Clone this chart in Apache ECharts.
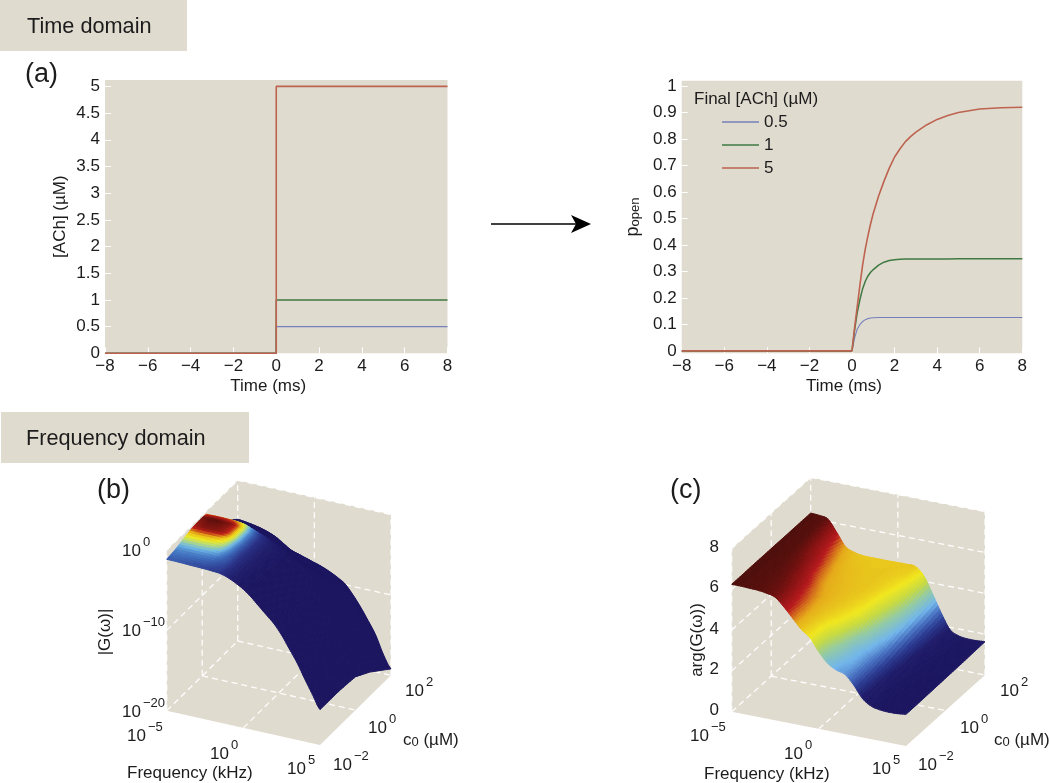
<!DOCTYPE html>
<html><head><meta charset="utf-8">
<style>html,body{margin:0;padding:0;background:#fff}#c{width:1050px;height:783px}</style>
<script src="https://cdn.jsdelivr.net/npm/echarts@6/dist/echarts.min.js"></script>
</head><body><div id="c"></div>
<script>
// ---------- panel (a) data ----------
const stepTime = [-8, 0, 0, 8];
const stimulus05 = [0, 0, 0.5, 0.5];
const stimulus1 = [0, 0, 1, 1];
const stimulus5 = [0, 0, 5, 5];
const respTime = [-8, 0, 0.125, 0.25, 0.375, 0.5, 0.625, 0.75, 0.875, 1, 1.25, 1.5, 1.75, 2, 2.25, 2.5, 2.75, 3, 3.5, 4, 4.5, 5, 6, 7, 8];
const popen05 = [0, 0, 0.05, 0.083, 0.1, 0.111, 0.118, 0.122, 0.124, 0.125, 0.126, 0.126, 0.126, 0.126, 0.126, 0.126, 0.126, 0.126, 0.126, 0.126, 0.126, 0.126, 0.126, 0.126, 0.126];
const popen1 = [0, 0, 0.08, 0.146, 0.195, 0.235, 0.263, 0.283, 0.297, 0.307, 0.324, 0.335, 0.341, 0.344, 0.346, 0.347, 0.347, 0.347, 0.347, 0.347, 0.347, 0.348, 0.348, 0.348, 0.348];
const popen5 = [0, 0, 0.09, 0.17, 0.25, 0.325, 0.385, 0.435, 0.48, 0.52, 0.585, 0.64, 0.69, 0.732, 0.762, 0.789, 0.809, 0.826, 0.853, 0.874, 0.889, 0.9, 0.913, 0.918, 0.92];
const yTicksA = [0, 0.5, 1, 1.5, 2, 2.5, 3, 3.5, 4, 4.5, 5];
const yTicksB = [0, 0.1, 0.2, 0.3, 0.4, 0.5, 0.6, 0.7, 0.8, 0.9, 1];

// ---------- 3D panels: shared frequency grid (log10 kHz) ----------
const logF = [-5, -4.5, -4, -3.5, -3, -2.5, -2, -1.5, -1, -0.5, 0, 0.5, 1, 1.5, 2, 2.5, 3, 3.5, 4, 4.5, 5];

// panel (b): log10 |G| by row of log10 c0
const logCb = [-2, -1.5, -1, -0.5, 0, 0.24, 0.8, 1.4, 2];
const magRow0 = [-1.16, -1.17, -1.2, -1.24, -1.27, -1.3, -1.36, -1.45, -1.75, -2.2, -2.75, -3.5, -4.4, -5.3, -6.2, -7.4, -8.9, -10.4, -12.2, -13.9, -15.6];
const magRow1 = [-1.0, -1.0, -1.0, -1.0, -1.02, -1.05, -1.15, -1.3, -1.7, -2.1, -2.65, -3.4, -4.25, -5.15, -6.05, -7.2, -8.7, -10.2, -12, -13.8, -15.6];
const magRow2 = [-0.63, -0.62, -0.62, -0.63, -0.66, -0.75, -1.0, -1.3, -1.65, -2.05, -2.55, -3.25, -4.1, -5, -5.9, -7, -8.5, -10, -11.8, -13.7, -15.6];
const magRow3 = [-0.36, -0.33, -0.32, -0.33, -0.37, -0.52, -0.9, -1.25, -1.6, -2, -2.45, -3.1, -3.9, -4.8, -5.7, -6.8, -8.3, -9.8, -11.6, -13.6, -15.7];
const magRow4 = [-0.3, -0.28, -0.28, -0.3, -0.34, -0.5, -0.9, -1.25, -1.6, -2, -2.4, -3, -3.75, -4.6, -5.5, -6.6, -8.1, -9.7, -11.5, -13.6, -15.85];
const magRow5 = [-0.42, -0.4, -0.4, -0.42, -0.47, -0.62, -0.98, -1.35, -1.75, -2.15, -2.55, -3.1, -3.8, -4.6, -5.5, -6.6, -8.1, -9.7, -11.6, -13.7, -16.2];
const magRow6 = [-2.5, -2.5, -2.5, -2.6, -2.7, -2.85, -3.1, -3.4, -3.75, -4.1, -4.9, -5.2, -5.6, -6.1, -6.8, -7.7, -9, -10.5, -12.3, -14.4, -17.0];
const magRow7 = [-3.7, -3.75, -3.8, -3.9, -4, -4.2, -5, -5.3, -6, -6.4, -6.8, -7.1, -7.5, -7.9, -8.4, -9, -10.2, -11.7, -13.5, -15.8, -18.1];
const magRow8 = [-4.85, -4.95, -5.1, -5.3, -5.6, -6, -6.6, -7.2, -7.5, -7.8, -8.1, -8.4, -8.8, -9.3, -9.9, -11, -12.3, -13.8, -15.4, -17.6, -19.2];

// panel (c): arg G by row of log10 c0
const logCc = [-2, -1.5, -1, -0.5, 0, 0.5, 1, 1.5, 2];
const argRow0 = [6.24, 6.24, 6.22, 6.2, 6.14, 6.02, 5.63, 5.16, 4.7, 4.37, 3.77, 3.3, 3.05, 2.92, 2.48, 1.91, 1.62, 1.52, 1.49, 1.5, 1.55];
const argRow1 = [6.24, 6.24, 6.22, 6.19, 6.12, 5.98, 5.55, 5.12, 4.75, 4.45, 3.95, 3.55, 3.2, 3.0, 2.55, 1.97, 1.64, 1.53, 1.5, 1.51, 1.55];
const argRow2 = [6.25, 6.24, 6.22, 6.18, 6.08, 5.85, 5.4, 5.05, 4.78, 4.6, 4.38, 3.85, 3.3, 3.05, 2.65, 2.03, 1.68, 1.54, 1.51, 1.52, 1.56];
const argRow3 = [6.25, 6.24, 6.22, 6.15, 6.0, 5.65, 5.2, 4.95, 4.8, 4.68, 4.55, 4.3, 3.75, 3.2, 2.8, 2.1, 1.72, 1.56, 1.52, 1.53, 1.57];
const argRow4 = [6.25, 6.24, 6.21, 6.1, 5.85, 5.35, 5.0, 4.85, 4.78, 4.7, 4.62, 4.42, 4.0, 3.45, 2.95, 2.2, 1.75, 1.58, 1.53, 1.54, 1.58];
const argRow5 = [6.25, 6.23, 6.2, 6.0, 5.65, 5.15, 4.9, 4.8, 4.74, 4.7, 4.66, 4.52, 4.2, 3.7, 3.1, 2.3, 1.78, 1.6, 1.55, 1.55, 1.59];
const argRow6 = [6.25, 6.23, 6.18, 5.88, 5.4, 4.98, 4.8, 4.74, 4.7, 4.68, 4.66, 4.58, 4.38, 3.9, 3.2, 2.4, 1.82, 1.62, 1.57, 1.57, 1.6];
const argRow7 = [6.25, 6.22, 6.15, 5.72, 5.15, 4.85, 4.72, 4.69, 4.67, 4.67, 4.67, 4.62, 4.52, 4.1, 3.32, 2.5, 1.85, 1.64, 1.58, 1.58, 1.62];
const argRow8 = [6.25, 6.22, 6.12, 5.55, 4.95, 4.75, 4.67, 4.66, 4.66, 4.66, 4.67, 4.67, 4.65, 4.25, 3.45, 2.6, 1.88, 1.66, 1.6, 1.6, 1.63];

const magMatrix = [magRow0, magRow1, magRow2, magRow3, magRow4, magRow5, magRow6, magRow7, magRow8];
const argMatrix = [argRow0, argRow1, argRow2, argRow3, argRow4, argRow5, argRow6, argRow7, argRow8];

// ---------- style ----------
const BG = '#e0dbcf', INK = '#1c1c1c', FONT = '"Liberation Sans", Arial, sans-serif';
const BLUE = '#7480bd', GREEN = '#3f7a42', RED = '#bd6350';

// ---------- colour maps ----------
const mapMag = [[0, '#1c1660'], [0.07, '#2a3288'], [0.16, '#3f6fbe'], [0.26, '#6fb8e8'], [0.38, '#b8dc78'], [0.5, '#f2e81e'], [0.62, '#e8b418'], [0.78, '#c02018'], [1, '#5e0f0c']];
const mapArg = [[1.5, '#1c1660'], [1.95, '#1f1c6a'], [2.35, '#2c3c92'], [2.75, '#4a74c4'], [3.1, '#72b6ec'], [3.6, '#94cba4'], [4.0, '#c6da44'], [4.4, '#f2e81e'], [4.72, '#e8c01c'], [4.95, '#e6aa1a'], [5.2, '#d2661c'], [5.45, '#b81a1e'], [5.9, '#861212'], [6.25, '#4f0f0c']];
function lut(stops) {
  const lo = stops[0][0], hi = stops[stops.length - 1][0], arr = [];
  for (let k = 0; k <= 200; k++) {
    const x = lo + (hi - lo) * k / 200;
    let s = 0;
    while (s < stops.length - 2 && x > stops[s + 1][0]) s++;
    const f = (x - stops[s][0]) / (stops[s + 1][0] - stops[s][0]);
    arr.push(echarts.color.lerp(Math.min(1, Math.max(0, f)), [stops[s][1], stops[s + 1][1]]));
  }
  return q => arr[Math.round(200 * Math.min(1, Math.max(0, (q - lo) / (hi - lo))))];
}
const lutMag = lut(mapMag), lutArg = lut(mapArg);

// ---------- 3D boxes: screen frame of each orthographic box ----------
const panelB = {
  origin: [166.7, 710.7], uVec: [153.3, 34.3], vVec: [71, -69.7], wVec: [0, -160.7],
  zMin: -20, zMax: 0, cMin: -2, cMax: 2, logC: logCb, matrix: magMatrix,
  zGrid: [-20, -10, 0],
  colour: z => lutMag(Math.pow(10, z + 0.28))
};
const panelC = {
  origin: [731.7, 711.7], uVec: [174.3, 34.3], vVec: [79, -71], wVec: [0, -163.3],
  zMin: 0, zMax: 8, cMin: -2, cMax: 2, logC: logCc, matrix: argMatrix,
  zGrid: [0, 2, 4, 6, 8],
  colour: z => lutArg(z)
};
function project(p, lf, lc, z) {
  const u = (lf + 5) / 10, v = (lc - p.cMin) / (p.cMax - p.cMin), w = (z - p.zMin) / (p.zMax - p.zMin);
  return [p.origin[0] + u * p.uVec[0] + v * p.vVec[0] + w * p.wVec[0],
          p.origin[1] + u * p.uVec[1] + v * p.vVec[1] + w * p.wVec[1]];
}

function boxRender(p) {
  return function (params, api) {
    if (params.dataIndex !== 0) return null;
    const P = (f, c, z) => api.coord(project(p, f, c, z));
    const c0 = p.cMin, c1 = p.cMax, zl = p.zMin, zh = p.zMax;
    const kids = [{
      type: 'polygon', silent: true,
      shape: { points: [P(-5, c0, zl), P(5, c0, zl), P(5, c1, zl), P(5, c1, zh), P(-5, c1, zh), P(-5, c0, zh)] },
      style: { fill: BG }
    }];
    const seg = (a, b) => kids.push({
      type: 'line', silent: true,
      shape: { x1: a[0], y1: a[1], x2: b[0], y2: b[1] },
      style: { stroke: '#ffffff', lineWidth: 1.3, lineDash: [6, 4], opacity: 0.95 }
    });
    p.zGrid.forEach(z => {
      seg(P(-5, c0, z), P(-5, c1, z));
      seg(P(-5, c1, z), P(5, c1, z));
    });
    [c0, (c0 + c1) / 2].forEach(c => seg(P(-5, c, zl), P(-5, c, zh)));
    [-5, 0, 5].forEach(f => seg(P(f, c1, zl), P(f, c1, zh)));
    seg(P(-5, (c0 + c1) / 2, zl), P(5, (c0 + c1) / 2, zl));
    seg(P(0, c0, zl), P(0, c1, zl));
    return { type: 'group', children: kids };
  };
}

const SUB = 5;
// shading between read values: spline along frequency, linear along concentration
function spline(row, i, s) {
  const a = row[Math.max(0, i - 1)], b = row[i], c = row[i + 1], d = row[Math.min(row.length - 1, i + 2)];
  return b + 0.5 * s * (c - a + s * (2 * a - 5 * b + 4 * c - d + s * (3 * (b - c) + d - a)));
}
function surfaceRender(p) {
  return function (params, api) {
    const i = api.value(0), j = api.value(1);
    const M = p.matrix, C = p.logC;
    const kids = [];
    for (let b = SUB - 1; b >= 0; b--) {
      for (let a = 0; a < SUB; a++) {
        const pt = (s, t) => {
          const z = spline(M[j], i, s) * (1 - t) + spline(M[j + 1], i, s) * t;
          const f = logF[i] + (logF[i + 1] - logF[i]) * s, c = C[j] + (C[j + 1] - C[j]) * t;
          return { xy: api.coord(project(p, f, c, z)), z };
        };
        const q = [pt(a / SUB, b / SUB), pt((a + 1) / SUB, b / SUB), pt((a + 1) / SUB, (b + 1) / SUB), pt(a / SUB, (b + 1) / SUB)];
        const col = p.colour((q[0].z + q[1].z + q[2].z + q[3].z) / 4);
        kids.push({
          type: 'polygon', silent: true,
          shape: { points: q.map(e => e.xy) },
          style: { fill: col, stroke: col, lineWidth: 1 }
        });
      }
    }
    return { type: 'group', children: kids };
  };
}
function quadList(p) {
  const out = [];
  for (let j = p.logC.length - 2; j >= 0; j--) for (let i = 0; i < logF.length - 1; i++) out.push([i, j]);
  return out;
}
function surfaceSeries(p) {
  return {
    type: 'custom', coordinateSystem: 'cartesian2d', xAxisIndex: 2, yAxisIndex: 2, clip: false, silent: true, z: 5,
    renderItem: surfaceRender(p), data: quadList(p), encode: { x: 0, y: 1 }, animation: false, tooltip: { show: false }
  };
}
function boxSeries(p) {
  return {
    type: 'custom', coordinateSystem: 'cartesian2d', xAxisIndex: 2, yAxisIndex: 2, clip: false, silent: true, z: 1,
    renderItem: boxRender(p), data: [[0, 0]], encode: { x: 0, y: 1 }, animation: false
  };
}

// ---------- helpers for 2D panels ----------
const pairs = (xs, ys) => xs.map((x, k) => [x, ys[k]]);
const minus = v => String(v).replace('-', '\u2212');
function lineS(name, xs, ys, col, w, idx) {
  return {
    name, type: 'line', xAxisIndex: idx, yAxisIndex: idx, data: pairs(xs, ys), symbol: 'none', showSymbol: false,
    lineStyle: { color: col, width: w }, itemStyle: { color: col }, clip: false, animation: false, z: 3
  };
}
function xAx(idx) {
  return {
    gridIndex: idx, type: 'value', min: -8, max: 8, interval: 2,
    axisLine: { show: false, onZero: false }, splitLine: { show: false },
    axisTick: { show: true, inside: true, length: 6, lineStyle: { color: '#ffffff', width: 1 } },
    axisLabel: { color: INK, fontFamily: FONT, fontSize: 17, margin: 5, formatter: minus, showMinLabel: true, showMaxLabel: true },
    name: 'Time (ms)', nameLocation: 'middle', nameGap: 22,
    nameTextStyle: { color: INK, fontFamily: FONT, fontSize: 17, padding: [0, 16, 0, 0], lineHeight: 20 }
  };
}
function yAx(idx, min, max, ticks, name, gap, extra) {
  return {
    gridIndex: idx, type: 'value', min, max,
    axisLine: { show: false, onZero: false }, splitLine: { show: false },
    axisTick: { show: true, inside: true, length: 6, customValues: ticks, lineStyle: { color: '#ffffff', width: 1 } },
    axisLabel: { color: INK, fontFamily: FONT, fontSize: 17, margin: 5, customValues: ticks },
    name, nameLocation: 'middle', nameGap: gap,
    nameTextStyle: Object.assign({ color: INK, fontFamily: FONT, fontSize: 17 }, extra || {})
  };
}

// ---------- text placed around the figure ----------
const powerLabels = [
  ['10', '0', 122, 548], ['10', '\u221210', 122, 628], ['10', '\u221220', 122, 709],
  ['10', '\u22125', 127, 733], ['10', '0', 210, 751], ['10', '5', 287, 766],
  ['10', '\u22122', 333, 762], ['10', '0', 368, 725], ['10', '2', 405, 688],
  ['10', '\u22125', 690, 733], ['10', '0', 784, 751], ['10', '5', 872, 766],
  ['10', '\u22122', 918, 762], ['10', '0', 960, 725], ['10', '2', 1000, 688]
];
const plainLabels = [
  ['8', 719, 547], ['6', 719, 587], ['4', 719, 629], ['2', 719, 669], ['0', 719, 710]
];
const T = (text, x, y, size, extra) => ({
  type: 'text', x, y, z: 20, silent: true,
  style: Object.assign({ text, fill: INK, font: size + 'px ' + FONT, textVerticalAlign: 'middle', verticalAlign: 'middle', align: 'left' }, extra || {})
});
const richStyle = {
  b: { fontSize: 17, fontFamily: FONT, fill: INK, color: INK, lineHeight: 24, verticalAlign: 'bottom' },
  s: { fontSize: 13, fontFamily: FONT, fill: INK, color: INK, lineHeight: 16, verticalAlign: 'top', padding: [0, 0, 0, 2] },
  d: { fontSize: 13, fontFamily: FONT, fill: INK, color: INK, lineHeight: 14, verticalAlign: 'bottom' }
};
const graphics = [
  { type: 'rect', shape: { x: 0, y: 0, width: 187, height: 51 }, style: { fill: BG }, silent: true, z: 0 },
  { type: 'rect', shape: { x: 1, y: 412, width: 248, height: 51 }, style: { fill: BG }, silent: true, z: 0 },
  T('Time domain', 27, 27, 21.7),
  T('Frequency domain', 26, 439, 21.7),
  T('(a)', 25, 75, 27),
  T('(b)', 97, 491, 27),
  T('(c)', 670, 491, 27),
  T('Final [ACh] (\u00b5M)', 694, 99.5, 17),
  T('Frequency (kHz)', 127, 773, 17),
  T('Frequency (kHz)', 704, 774, 17),
  T('|G(\u03c9)|', 105, 632, 17, { align: 'center' }),
  T('arg(G(\u03c9))', 697, 640, 17, { align: 'center' }),
  T('{b|c}{d|0}{b| (\u00b5M)}', 403, 737, 17, { rich: richStyle }),
  T('{b|c}{d|0}{b| (\u00b5M)}', 994, 737, 17, { rich: richStyle }),
  { type: 'line', shape: { x1: 491, y1: 224, x2: 580, y2: 224 }, style: { stroke: '#000', lineWidth: 1.6 }, silent: true, z: 20 },
  { type: 'polygon', shape: { points: [[591, 224], [571, 215], [576, 224], [571, 233]] }, style: { fill: '#000' }, silent: true, z: 20 }
];
graphics[10].rotation = Math.PI / 2;
graphics[11].rotation = Math.PI / 2;
powerLabels.forEach(l => graphics.push(T('{b|' + l[0] + '}{s|' + l[1] + '}', l[2], l[3], 17, { rich: richStyle })));
plainLabels.forEach(l => graphics.push(T(l[0], l[1], l[2], 17, { align: 'right' })));

// ---------- chart ----------
const chart = echarts.init(document.getElementById('c'), null, { renderer: 'canvas', width: 1050, height: 783 });
chart.setOption({
  animation: false,
  backgroundColor: '#ffffff',
  textStyle: { fontFamily: FONT },
  legend: {
    data: ['0.5', '1', '5'], orient: 'vertical', left: 722, top: 113.5, icon: 'rect', itemWidth: 37, itemHeight: 1.5, itemGap: 6, padding: 0,
    textStyle: { color: INK, fontFamily: FONT, fontSize: 17 }, selectedMode: false
  },
  grid: [
    { left: 105, top: 80, width: 342.5, height: 273.3, show: true, backgroundColor: BG, borderWidth: 0 },
    { left: 681.7, top: 80.7, width: 340.6, height: 272.6, show: true, backgroundColor: BG, borderWidth: 0 },
    { left: 0, top: 0, width: 1050, height: 783, show: false }
  ],
  xAxis: [
    xAx(0), xAx(1),
    { gridIndex: 2, type: 'value', min: 0, max: 1050, show: false }
  ],
  yAxis: [
    yAx(0, 0, 5.12, yTicksA, '[ACh] (\u00b5M)', 36),
    yAx(1, -0.009, 1.02, yTicksB, '{p|p}{o|open}', 40, {
      rich: {
        p: { fontSize: 18, fontFamily: FONT, color: INK, lineHeight: 22, verticalAlign: 'bottom' },
        o: { fontSize: 13, fontFamily: FONT, color: INK, lineHeight: 14, verticalAlign: 'bottom' }
      }
    }),
    { gridIndex: 2, type: 'value', min: 0, max: 783, inverse: true, show: false }
  ],
  graphic: { elements: graphics },
  series: [
    lineS('0.5', stepTime, stimulus05, BLUE, 1.1, 0),
    lineS('1', stepTime, stimulus1, GREEN, 1.5, 0),
    lineS('5', stepTime, stimulus5, RED, 1.6, 0),
    lineS('0.5', respTime, popen05, BLUE, 1.1, 1),
    lineS('1', respTime, popen1, GREEN, 1.5, 1),
    lineS('5', respTime, popen5, RED, 1.6, 1),
    boxSeries(panelB), surfaceSeries(panelB),
    boxSeries(panelC), surfaceSeries(panelC)
  ]
});
</script></body></html>
